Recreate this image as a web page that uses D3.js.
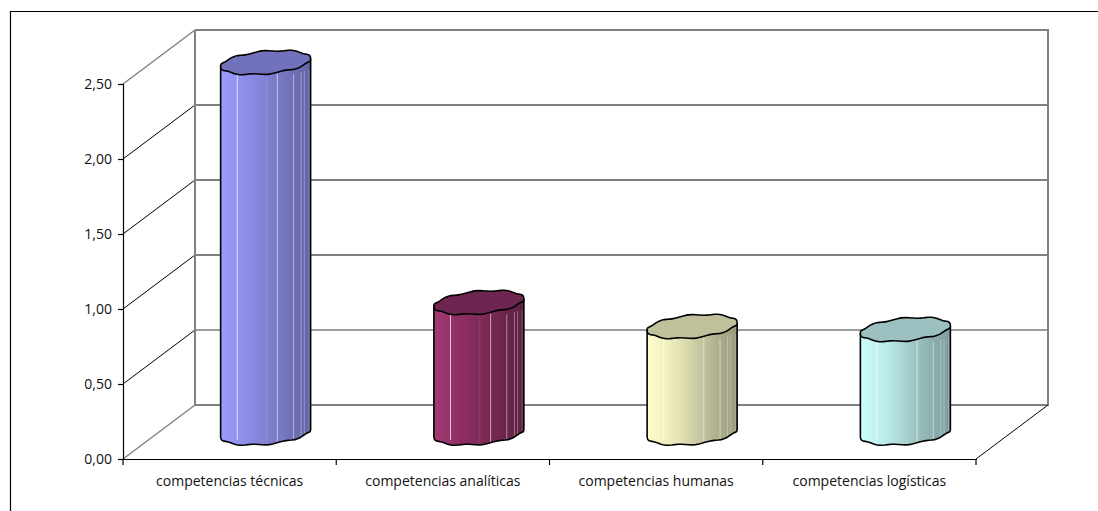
<!DOCTYPE html>
<html>
<head>
<meta charset="utf-8">
<script src="https://cdnjs.cloudflare.com/ajax/libs/d3/7.8.5/d3.min.js"></script>
<style>
html,body{margin:0;padding:0;background:#fff;overflow:hidden}
text{font-family:"Open Sans",sans-serif;font-size:14px;fill:#111}
</style>
</head>
<body>
<svg id="chart" width="1098" height="511"></svg>
<script>
// Cylinder chart on a pseudo-3D box
const categories = ["competencias técnicas","competencias analíticas","competencias humanas","competencias logísticas"];
const values = [2.47, 0.87, 0.71, 0.69];
const yTicks = [0, 0.5, 1, 1.5, 2, 2.5];
const bodyColors = [
  ["#9c9cff","#8a8ae4","#7878c4","#6464a4"],
  ["#a03c72","#8c2e60","#74284f","#5c2042"],
  ["#ffffcc","#e6e6b8","#bcbc98","#98987c"],
  ["#ccffff","#b8e6e6","#98bcbc","#7c9c9c"]
];
const capColors = ["#7272bc","#6e2550","#c0c09a","#9cc0c0"];
// Seams between the cylinder facets, as a fraction of its width
const seams = [0.185, 0.51, 0.63, 0.81, 0.895, 0.93, 0.98];
const seamOpacity = [0.75, 0.1, 0.55, 0.45, 0.35, 0.3, 0.2];

const svg = d3.select("#chart");
const depth = {x: 72, y: -54};
const y = d3.scaleLinear().domain([0, 2.5]).range([459, 84]);
const x = d3.scaleBand().domain(categories).range([123, 976]);
const barWidth = 90;

// Outer frame, open at the right and bottom of the canvas
svg.append("path").attr("d", "M10.5,511V11.5H1098").attr("fill","none").attr("stroke","#000").attr("stroke-width",1.2);

// Back wall and left wall
const wall = svg.append("g").attr("fill","none");
yTicks.forEach(t => {
  const edge = t === 0 || t === 2.5;
  const yy = y(t);
  const back = yy + depth.y;
  const color = edge ? "#808080" : (t === 0.5 ? "#3a3a3a" : "#000");
  wall.append("line").attr("x1",123+depth.x).attr("x2",976+depth.x+1).attr("y1",back).attr("y2",back)
    .attr("stroke",color).attr("stroke-width",edge ? 2 : 1);
  wall.append("line").attr("x1",123).attr("y1",yy).attr("x2",123+depth.x).attr("y2",back)
    .attr("stroke",edge ? "#808080" : "#000").attr("stroke-width",edge ? 1.4 : 1);
});
[123+depth.x, 976+depth.x].forEach(px => {
  wall.append("line").attr("x1",px).attr("x2",px).attr("y1",y(2.5)+depth.y).attr("y2",y(0)+depth.y)
    .attr("stroke","#808080").attr("stroke-width",2);
});
// Floor edge on the right
wall.append("line").attr("x1",976).attr("y1",y(0)).attr("x2",976+depth.x).attr("y2",y(0)+depth.y)
  .attr("stroke","#000").attr("stroke-width",1);

// Axes
const yAxis = svg.append("g").attr("transform","translate(123,0)")
  .call(d3.axisLeft(y).tickValues(yTicks).tickSize(5).tickPadding(6)
    .tickFormat(d => d3.format(".2f")(d).replace(".", ",")));
const xAxis = svg.append("g").attr("transform",`translate(0,${y(0)})`)
  .call(d3.axisBottom(x).tickSize(0).tickPadding(17));
[yAxis, xAxis].forEach(a => {
  a.selectAll("text").style("font-family",'"Open Sans",sans-serif').style("font-size","14px").attr("fill","#111");
  a.selectAll("line,path").attr("stroke","#000").attr("stroke-width",1.2);
});
const boundaries = categories.map(c => x(c)).concat(x.range()[1]);
xAxis.selectAll(".edge").data(boundaries).join("line").attr("class","edge")
  .attr("x1",d=>d).attr("x2",d=>d).attr("y1",0).attr("y2",6).attr("stroke","#000").attr("stroke-width",1.2);

// Elliptical rim with the slight waviness of a faceted cylinder
const rim = (cx, cy, t) => [
  cx + barWidth/2 * Math.cos(t),
  cy + 11.3*Math.sin(t) - 4*Math.cos(t) + 0.7*Math.sin(9*t + 0.6)
];
const closed = d3.line().curve(d3.curveCardinalClosed.tension(0.5));
const defs = svg.append("defs");

categories.forEach((c, i) => {
  const cx = x(c) + x.bandwidth()/2 + depth.x/2;
  const cyBase = y(0) + depth.y/2 + 1;
  const cyTop = y(values[i]) + depth.y/2 + 1;
  const g = svg.append("g");

  const grad = defs.append("linearGradient").attr("id","body"+i);
  bodyColors[i].forEach((col, k, all) =>
    grad.append("stop").attr("offset",k/(all.length-1)).attr("stop-color",col));

  const steps = d3.range(0, 40).map(k => k/40);
  const lower = steps.concat(1).map(f => rim(cx, cyBase, Math.PI * f));
  const upper = steps.concat(1).map(f => rim(cx, cyTop, Math.PI * f)).reverse();
  g.append("path").attr("d", d3.line()(lower.concat(upper)) + "Z")
    .attr("fill",`url(#body${i})`).attr("stroke","none");

  // Lighter seams between facets
  seams.forEach((s, k) => {
    const t = Math.acos(1 - 2*s);
    const top = rim(cx, cyTop, t), bot = rim(cx, cyBase, t);
    const px = cx - barWidth/2 + s*barWidth;
    g.append("line").attr("x1",px).attr("x2",px).attr("y1",top[1]).attr("y2",bot[1])
      .attr("stroke","#fff").attr("stroke-opacity",seamOpacity[k]).attr("stroke-width",1);
  });

  // Silhouette and cap
  const bottomEdge = steps.concat(1).map(f => rim(cx, cyBase, Math.PI * f));
  const left = bottomEdge[bottomEdge.length-1], right = bottomEdge[0];
  g.append("path")
    .attr("d", `M${right[0]},${rim(cx,cyTop,0)[1]}` + d3.line()(bottomEdge).replace("M","L") + `L${left[0]},${rim(cx,cyTop,Math.PI)[1]}`)
    .attr("fill","none").attr("stroke","#000").attr("stroke-width",1.6);
  const cap = d3.range(0, 72).map(k => rim(cx, cyTop, 2*Math.PI*k/72));
  g.append("path").attr("d", closed(cap)).attr("fill",capColors[i]).attr("stroke","#000").attr("stroke-width",1.6);
});
</script>
</body>
</html>
